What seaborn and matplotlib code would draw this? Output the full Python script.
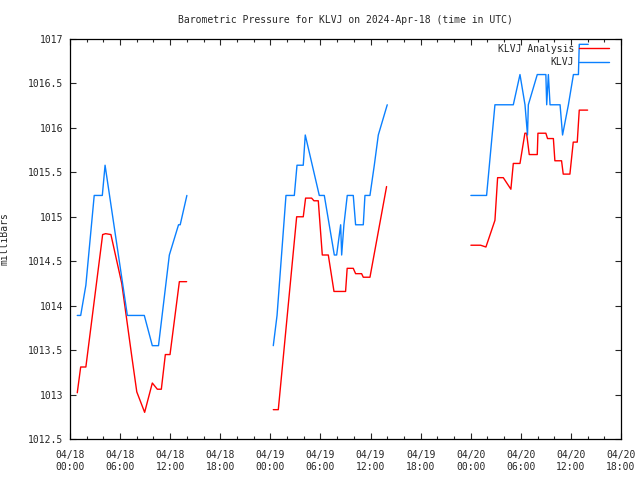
import numpy as np
import pandas as pd
import matplotlib
matplotlib.use("Agg")
import matplotlib.pyplot as plt
from matplotlib.ticker import MultipleLocator, FuncFormatter
from matplotlib.lines import Line2D
import seaborn as sns

# hours since 2024-04-18 00:00 UTC, pressure in mb
klvj_t1 = [0.87, 1.28, 1.9, 2.9, 3.87, 4.2, 6.87, 8.9, 9.86, 10.6, 11.9, 13.0, 13.2, 14.0]
klvj_v1 = [1013.89, 1013.89, 1014.23, 1015.24, 1015.24, 1015.58, 1013.89, 1013.89, 1013.55,
           1013.55, 1014.57, 1014.91, 1014.91, 1015.24]
klvj_t2 = [24.35, 24.8, 25.87, 26.87, 27.19, 27.94, 28.18, 29.86, 30.46, 31.66, 31.94, 32.42,
           32.54, 32.81, 33.21, 33.93, 34.21, 35.13, 35.33, 35.93, 36.45, 36.93, 38.0]
klvj_v2 = [1013.55, 1013.89, 1015.24, 1015.24, 1015.58, 1015.58, 1015.92, 1015.24, 1015.24,
           1014.57, 1014.57, 1014.91, 1014.57, 1014.91, 1015.24, 1015.24, 1014.91, 1014.91,
           1015.24, 1015.24, 1015.58, 1015.92, 1016.26]
klvj_t3 = [48.02, 49.9, 50.9, 53.1, 53.9, 54.5, 54.8, 54.9, 55.97, 57.0, 57.1, 57.3, 57.5,
           57.9, 58.7, 59.0, 59.7, 60.3, 60.9, 61.0, 62.07]
klvj_v3 = [1015.24, 1015.24, 1016.26, 1016.26, 1016.6, 1016.26, 1015.92, 1016.26, 1016.6,
           1016.6, 1016.26, 1016.6, 1016.26, 1016.26, 1016.26, 1015.92, 1016.26, 1016.6,
           1016.6, 1016.94, 1016.94]

ana_t1 = [0.87, 1.28, 1.9, 3.91, 4.27, 4.9, 6.2, 6.8, 7.4, 8.0, 8.94, 9.86, 10.46, 10.94,
          11.42, 11.98, 13.1, 13.97]
ana_v1 = [1013.02, 1013.31, 1013.31, 1014.80, 1014.81, 1014.80, 1014.25, 1013.84, 1013.43,
          1013.03, 1012.80, 1013.13, 1013.06, 1013.06, 1013.45, 1013.45, 1014.27, 1014.27]
ana_t2 = [24.35, 24.95, 27.15, 27.94, 28.22, 28.94, 29.22, 29.74, 30.22, 30.94, 31.62, 33.01,
          33.2, 33.93, 34.21, 34.93, 35.13, 35.93, 37.92]
ana_v2 = [1012.83, 1012.83, 1015.0, 1015.0, 1015.21, 1015.21, 1015.18, 1015.18, 1014.57,
          1014.57, 1014.16, 1014.16, 1014.42, 1014.42, 1014.36, 1014.36, 1014.32, 1014.32,
          1015.34]
ana_t3 = [48.02, 49.18, 49.82, 50.9, 51.22, 51.9, 52.81, 53.1, 53.9, 54.49, 54.69, 55.01,
          55.97, 56.05, 57.0, 57.2, 57.9, 58.08, 58.88, 59.08, 59.88, 60.28, 60.76, 61.0, 62.0]
ana_v3 = [1014.68, 1014.68, 1014.66, 1014.96, 1015.44, 1015.44, 1015.31, 1015.60, 1015.60,
          1015.94, 1015.94, 1015.70, 1015.70, 1015.94, 1015.94, 1015.88, 1015.88, 1015.63,
          1015.63, 1015.48, 1015.48, 1015.84, 1015.84, 1016.2, 1016.2]

x_ticks = list(range(0, 67, 6))
x_labels = ["04/18\n00:00", "04/18\n06:00", "04/18\n12:00", "04/18\n18:00",
            "04/19\n00:00", "04/19\n06:00", "04/19\n12:00", "04/19\n18:00",
            "04/20\n00:00", "04/20\n06:00", "04/20\n12:00", "04/20\n18:00"]

series_names = ["KLVJ Analysis", "KLVJ"]
colors = {"KLVJ Analysis": "#ff0000", "KLVJ": "#0a80ff"}

rows = []
for name, segs in [("KLVJ Analysis", [(ana_t1, ana_v1), (ana_t2, ana_v2), (ana_t3, ana_v3)]),
                   ("KLVJ", [(klvj_t1, klvj_v1), (klvj_t2, klvj_v2), (klvj_t3, klvj_v3)])]:
    for i, (ts, vs) in enumerate(segs):
        for t, v in zip(ts, vs):
            rows.append({"series": name, "seg": f"{name}-{i}", "t": t, "v": v})
df = pd.DataFrame(rows)

sns.set_style("ticks")
plt.rcParams["font.family"] = ["DejaVu Sans Mono"]
plt.rcParams["font.size"] = 7

fig = plt.figure(figsize=(6.4, 4.8), dpi=100)
ax = fig.add_axes([70 / 640, 1 - 439 / 480, (621 - 70) / 640, 400 / 480])

sns.lineplot(data=df, x="t", y="v", hue="series", units="seg", estimator=None,
             hue_order=series_names, palette=colors, sort=False, lw=1.0, ax=ax, legend=False)

ax.set_xlim(0, 66)
ax.set_ylim(1012.5, 1017)
ax.set_xticks(x_ticks)
ax.set_xticklabels(x_labels)
ax.xaxis.set_minor_locator(MultipleLocator(2))
ax.yaxis.set_major_locator(MultipleLocator(0.5))
ax.yaxis.set_major_formatter(FuncFormatter(lambda v, p: f"{v:g}"))
ax.tick_params(which="both", direction="in", top=True, right=True, width=0.8, labelsize=7)
ax.tick_params(which="major", length=4)
ax.tick_params(axis="y", which="major", pad=5)
ax.tick_params(axis="x", which="major", pad=8)
ax.tick_params(which="minor", length=2.5)
for s in ax.spines.values():
    s.set_linewidth(0.9)
    s.set_color("black")
ax.set_xlabel("")
ax.set_ylabel("milliBars", fontsize=7)
ax.yaxis.set_label_coords((10 - 70) / 551, 0.5)

handles = [Line2D([], [], color=colors[n], lw=1.0) for n in series_names]
ax.legend(handles, series_names, loc="upper right", frameon=False, markerfirst=False,
          fontsize=7, handlelength=3.1, handletextpad=0.5, labelspacing=0.35,
          borderaxespad=0.2, borderpad=0.5, bbox_to_anchor=(1 - 5 / 551, 1 + 2 / 400))

fig.text((70 + 621) / 2 / 640, 1 - 20 / 480,
         "Barometric Pressure for KLVJ on 2024-Apr-18 (time in UTC)",
         ha="center", va="center", fontsize=7)

fig.savefig("out.png", dpi=100)
